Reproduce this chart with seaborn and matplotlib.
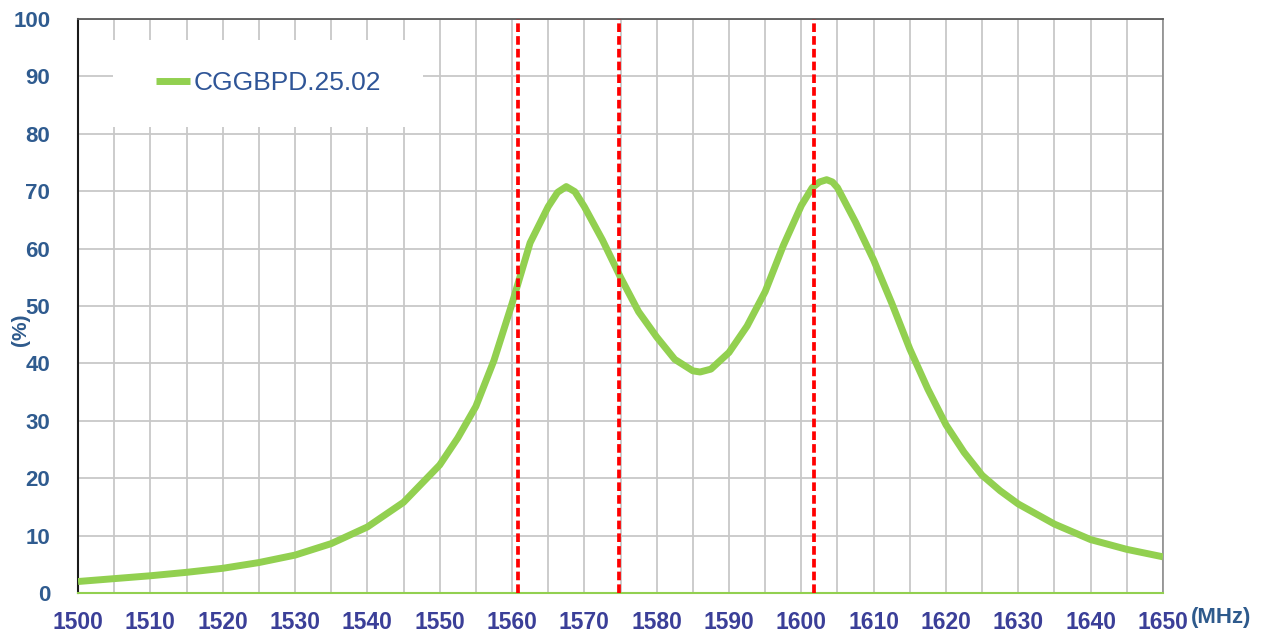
import seaborn as sns
import pandas as pd
import matplotlib.pyplot as plt
from matplotlib.patches import Rectangle

# frequency (MHz) and efficiency (%)
freq = [1500, 1505, 1510, 1515, 1520, 1525, 1530, 1535, 1540, 1545, 1550,
        1552.5, 1555, 1557.5, 1560, 1562.5, 1565, 1566.3, 1567.5, 1568.7,
        1570, 1572.5, 1575, 1577.5, 1580, 1582.5, 1585, 1586, 1587.5, 1590,
        1592.5, 1595, 1597.5, 1600, 1601.5, 1602.5, 1603.5, 1604.3, 1605,
        1607.5, 1610, 1612.5, 1615, 1617.5, 1620, 1622.5, 1625, 1627.5, 1630,
        1635, 1640, 1645, 1650]
eff = [2.0, 2.5, 3.0, 3.6, 4.3, 5.3, 6.6, 8.6, 11.5, 15.8, 22.3,
       27.0, 32.5, 40.5, 50.4, 61.0, 67.3, 69.8, 70.8, 69.9,
       67.3, 61.5, 55.0, 49.0, 44.6, 40.7, 38.7, 38.5, 39.0, 41.9,
       46.5, 52.5, 60.5, 67.5, 70.6, 71.6, 72.0, 71.6, 70.6,
       64.6, 58.0, 50.5, 42.5, 35.5, 29.3, 24.5, 20.5, 17.8, 15.5,
       12.0, 9.3, 7.6, 6.3]
band_marks = [1560.8, 1574.8, 1601.7]
series_name = "CGGBPD.25.02"

x_ticks = list(range(1500, 1651, 10))
y_ticks = list(range(0, 101, 10))

df = pd.DataFrame({"freq": freq, "eff": eff})

sns.set_style("white")
plt.rcParams['font.family'] = ['Liberation Sans', 'DejaVu Sans']

fig = plt.figure(figsize=(12.63, 6.41), dpi=100)
ax = fig.add_axes([0.0618, 0.0749, 0.8590, 0.8955])

sns.lineplot(data=df, x="freq", y="eff", ax=ax, color="#92d050", linewidth=5,
             label=series_name, zorder=3, solid_joinstyle="round",
             solid_capstyle="butt")

for f in band_marks:
    ax.axvline(f, color="#ff0000", linewidth=2.7, linestyle=(0, (2.3, 1.1)), zorder=4)

ax.set_xlim(1500, 1650)
ax.set_ylim(0, 100)
ax.set_xticks(x_ticks)
ax.set_xticks(range(1505, 1650, 10), minor=True)
ax.set_yticks(y_ticks)
ax.set_xticklabels([str(t) for t in x_ticks])
ax.set_yticklabels([str(t) for t in y_ticks])

ax.grid(True, which="both", axis="x", color="#c8c8c8", linewidth=1.3)
ax.grid(True, which="major", axis="y", color="#c8c8c8", linewidth=1.3)
ax.set_axisbelow(True)

ax.tick_params(axis="x", which="major", direction="in", length=4, width=1.2,
               color="#92d050", pad=13, labelsize=16.5, labelcolor="#3b3f98")
ax.tick_params(axis="x", which="minor", length=0)
ax.tick_params(axis="y", direction="in", length=6, width=1.2, color="#1a1a1a",
               pad=20, labelsize=16, labelcolor="#2f5b8f")
for lab in ax.get_xticklabels() + ax.get_yticklabels():
    lab.set_fontweight("bold")

ax.spines["left"].set_color("#1a1a1a")
ax.spines["left"].set_linewidth(1.5)
ax.spines["top"].set_color("#595959")
ax.spines["top"].set_linewidth(1.3)
ax.spines["right"].set_color("#8c8c8c")
ax.spines["right"].set_linewidth(1.2)
ax.spines["bottom"].set_color("#92d050")
ax.spines["bottom"].set_linewidth(1.5)

ax.set_xlabel("")
ax.set_ylabel("")

# white box behind the legend, hiding the grid
ax.add_patch(Rectangle((0.032, 0.812), 0.286, 0.151, transform=ax.transAxes,
                       facecolor="white", edgecolor="none", zorder=1.5))
leg = ax.legend(loc="center left", bbox_to_anchor=(0.072, 0.888), frameon=False,
                fontsize=19, handlelength=1.3, handletextpad=0.12,
                borderpad=0, borderaxespad=0)
for t in leg.get_texts():
    t.set_color("#2f5597")
leg.set_zorder(5)

fig.text(0.943, 0.036, "(MHz)", fontsize=16, fontweight="bold",
         color="#2e5a8c", ha="left", va="center")
fig.text(0.0166, 0.485, "(%)", fontsize=15, fontweight="bold",
         color="#2e5a8c", ha="center", va="center", rotation=90)

fig.savefig("out.png", dpi=100)
